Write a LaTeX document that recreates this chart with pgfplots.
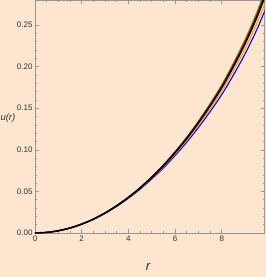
\documentclass[border=0pt]{standalone}
\usepackage{pgfplots}
\pgfplotsset{compat=1.18}
\usepackage{fontspec}
\setmainfont{Liberation Sans}
\definecolor{bg}{RGB}{253,229,208}
\definecolor{frame}{RGB}{150,150,150}
\definecolor{lbl}{RGB}{50,50,50}
\definecolor{mgreen}{RGB}{0,230,0}
\definecolor{morange}{RGB}{255,160,0}
\begin{document}
\begin{tikzpicture}
\fill[bg] (0,0) rectangle (266pt,277pt);
\useasboundingbox (0,0) rectangle (266pt,277pt);
\begin{axis}[
  at={(35pt,44pt)}, anchor=south west,
  width=229.7pt, height=233pt, scale only axis,
  xmin=0, xmax=9.84, ymin=0, ymax=0.28,
  xtick={0,2,4,6,8}, ytick={0,0.05,0.10,0.15,0.20,0.25},
  minor x tick num=3, minor y tick num=4,
  tick align=inside,
  major tick length=4pt, minor tick length=2pt,
  axis line style={frame, line width=0.6pt},
  every tick/.style={frame, line width=0.5pt},
  xticklabel style={font=\fontsize{8}{9}\selectfont, text=lbl, yshift=1pt},
  yticklabel style={font=\fontsize{8}{9}\selectfont, text=lbl, xshift=1pt},
  /pgf/number format/assume math mode=true,
  yticklabel={\pgfmathprintnumber[fixed, fixed zerofill, precision=2]{\tick}},
  xticklabel={\pgfmathprintnumber[fixed, precision=0]{\tick}},
  scaled y ticks=false,
  clip mode=individual,
]
\addplot[blue, line width=1.1pt, smooth] coordinates {
(0,0) (0.5,0.0007) (1,0.0027) (1.5,0.0059) (2,0.0106) (2.5,0.0164) (3,0.0236) (3.5,0.0320) (4,0.0417) (4.5,0.0525) (5,0.0648) (5.5,0.0781) (6,0.0930) (6.5,0.1091) (7,0.1267) (7.5,0.1458) (8,0.1663) (8.5,0.1898) (9,0.2153) (9.5,0.2442) (10,0.2773)};
\addplot[morange, line width=1.1pt, smooth] coordinates {
(0,0) (0.5,0.0007) (1,0.0027) (1.5,0.0060) (2,0.0106) (2.5,0.0165) (3,0.0238) (3.5,0.0324) (4,0.0422) (4.5,0.0533) (5,0.0658) (5.5,0.0795) (6,0.0948) (6.5,0.1113) (7,0.1295) (7.5,0.1493) (8,0.1705) (8.5,0.1949) (9,0.2215) (9.5,0.2516) (10,0.2862)};
\addplot[mgreen, line width=1.1pt, smooth] coordinates {
(0,0) (0.5,0.0007) (1,0.0027) (1.5,0.0060) (2,0.01075) (2.5,0.0167) (3,0.0242) (3.5,0.0330) (4,0.0431) (4.5,0.0546) (5,0.0676) (5.5,0.0819) (6,0.0979) (6.5,0.1153) (7,0.1346) (7.5,0.1556) (8,0.1782) (8.5,0.2043) (9,0.2327) (9.5,0.2652) (10,0.3024)};
\addplot[magenta, line width=1.1pt, smooth] coordinates {
(0,0) (0.5,0.0007) (1,0.0027) (1.5,0.0060) (2,0.0107) (2.5,0.0166) (3,0.0241) (3.5,0.0329) (4,0.0430) (4.5,0.0544) (5,0.0673) (5.5,0.0815) (6,0.0974) (6.5,0.1146) (7,0.1337) (7.5,0.1544) (8,0.1768) (8.5,0.2026) (9,0.2307) (9.5,0.2627) (10,0.2994)};
\addplot[red, line width=1.1pt, smooth] coordinates {
(0,0) (0.5,0.0007) (1,0.0027) (1.5,0.0060) (2,0.0107) (2.5,0.0166) (3,0.0241) (3.5,0.0328) (4,0.0429) (4.5,0.0542) (5,0.0671) (5.5,0.0812) (6,0.0971) (6.5,0.1142) (7,0.1332) (7.5,0.1538) (8,0.1761) (8.5,0.2017) (9,0.2296) (9.5,0.2615) (10,0.2980)};
\addplot[black, line width=1.6pt, smooth] coordinates {
(0,0) (0.5,0.0007) (1,0.0027) (1.5,0.0060) (2,0.0107) (2.5,0.0166) (3,0.0240) (3.5,0.0327) (4,0.0427) (4.5,0.0540) (5,0.0668) (5.5,0.0808) (6,0.0965) (6.5,0.1135) (7,0.1323) (7.5,0.1527) (8,0.1747) (8.5,0.2000) (9,0.2276) (9.5,0.2590) (10,0.2950)};
\node[font=\fontsize{9.5}{10}\selectfont\itshape, text=lbl] at (axis description cs:-0.118,0.494) {u(r)};
\node[font=\fontsize{13}{14}\selectfont\itshape, text=lbl] at (axis description cs:0.492,-0.148) {r};
\end{axis}
\end{tikzpicture}
\end{document}
